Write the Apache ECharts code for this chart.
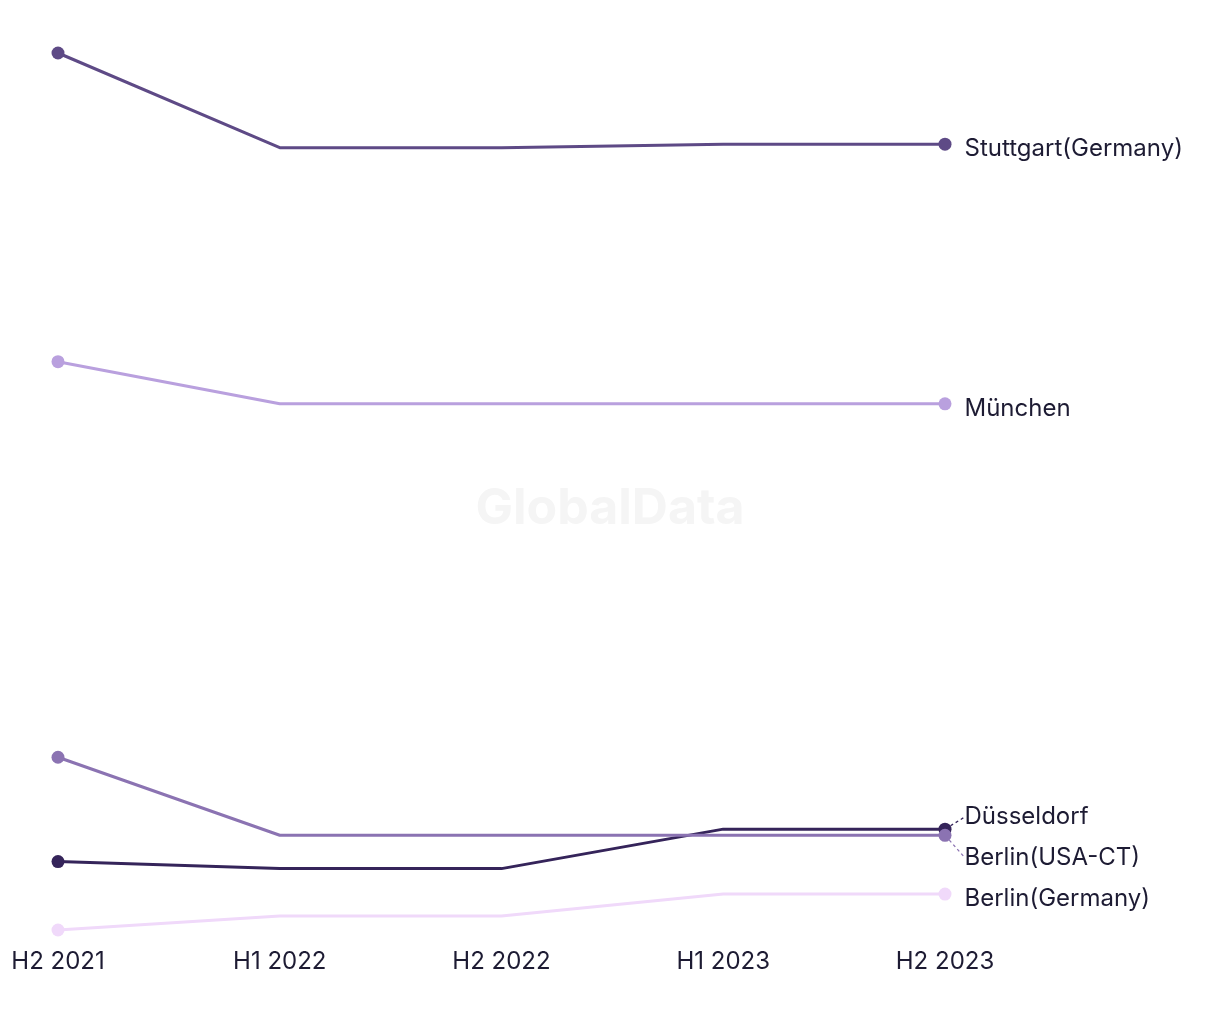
<!DOCTYPE html>
<html>
<head>
<meta charset="utf-8">
<script src="https://cdn.jsdelivr.net/npm/echarts@6/dist/echarts.min.js"></script>
<style>
  html, body { margin: 0; padding: 0; background: #fff; }
  #main { width: 1220px; height: 1020px; }
</style>
</head>
<body>
<div id="main"></div>
<script>
// categories
var periods = ['H2 2021', 'H1 2022', 'H2 2022', 'H1 2023', 'H2 2023'];

// series values (relative scale)
var stuttgart = [100, 89.2, 89.2, 89.6, 89.6];
var muenchen = [64.8, 60.0, 60.0, 60.0, 60.0];
var berlinUsa = [19.7, 10.8, 10.8, 10.8, 10.8];
var duesseldorf = [7.8, 7.0, 7.0, 11.5, 11.5];
var berlinDe = [0, 1.6, 1.6, 4.1, 4.1];

var names = ['Stuttgart(Germany)', 'München', 'Berlin(USA-CT)', 'Düsseldorf', 'Berlin(Germany)'];
var colors = ['#5e4a86', '#b9a0de', '#8b73b2', '#35245a', '#f0d9fa'];
var values = [stuttgart, muenchen, berlinUsa, duesseldorf, berlinDe];
// vertical nudge of the end labels, so the close ones do not collide
var labelShift = [5, 5, 22, -12, 5];

var txtColor = '#1d1b33';
var fontFam = 'Inter, "Noto Sans", sans-serif';

function buildSeries(i) {
    var arr = values[i];
    var last = arr.length - 1;
    var moved = Math.abs(labelShift[i]) > 8;
    return {
        name: names[i],
        type: 'line',
        data: arr.map(function (v, k) {
            if (k === last) {
                return { value: v, label: { show: true } };
            }
            return v;
        }),
        symbol: 'circle',
        symbolSize: function (v, p) {
            return (p.dataIndex === 0 || p.dataIndex === last) ? 13 : 0;
        },
        showAllSymbol: true,
        lineStyle: { width: 3, color: colors[i] },
        itemStyle: { color: colors[i] },
        label: {
            show: false,
            position: 'right',
            distance: 13,
            formatter: '{a}',
            color: txtColor,
            fontSize: 24,
            fontFamily: fontFam
        },
        labelLine: {
            show: moved,
            length2: 0,
            lineStyle: { color: colors[i], type: [3, 3], width: 1.3 }
        },
        labelLayout: { dy: labelShift[i] },
        emphasis: { disabled: true },
        z: 10 - i
    };
}

var chart = echarts.init(document.getElementById('main'));
chart.setOption({
    animation: false,
    backgroundColor: '#fff',
    graphic: [{
        type: 'text',
        left: 'center',
        top: 484,
        z: -1,
        style: {
            text: 'GlobalData',
            fill: '#f5f5f5',
            font: 'bold 50px Inter, "Noto Sans", sans-serif'
        }
    }],
    grid: { left: 58, right: 275, top: 53, bottom: 90 },
    xAxis: {
        type: 'category',
        data: periods,
        boundaryGap: false,
        axisLine: { show: false },
        axisTick: { show: false },
        splitLine: { show: false },
        axisLabel: {
            color: txtColor,
            fontSize: 24,
            fontFamily: fontFam,
            margin: 20
        }
    },
    yAxis: {
        type: 'value',
        min: 0,
        max: 100,
        show: false
    },
    series: [0, 1, 2, 3, 4].map(buildSeries)
});
</script>
</body>
</html>
